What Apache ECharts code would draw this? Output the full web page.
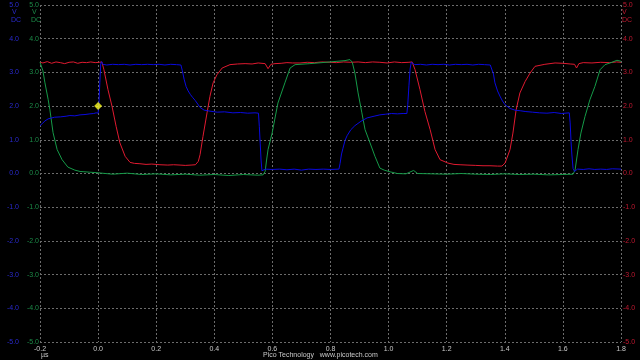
<!DOCTYPE html>
<html>
<head>
<meta charset="utf-8">
<script src="https://cdn.jsdelivr.net/npm/echarts@6/dist/echarts.min.js"></script>
<style>
html,body{margin:0;padding:0;background:#000;}
#chart{width:640px;height:360px;}
</style>
</head>
<body>
<div id="chart"></div>
<script>
// Time axis (µs) and voltage axes (V DC)
const xTicks = { min: -0.2, max: 1.8, step: 0.2 };
const yTicks = { min: -5, max: 5, step: 1 };

// Channel A (blue)
const blueT = [-0.200,-0.190,-0.183,-0.172,-0.166,-0.150,-0.130,-0.110,-0.097,-0.080,-0.062,-0.045,-0.028,-0.015,-0.007,0.000,0.003,0.006,0.009,0.012,0.016,0.030,0.050,0.070,0.090,0.110,0.130,0.150,0.170,0.190,0.210,0.230,0.250,0.270,0.285,0.290,0.296,0.303,0.310,0.318,0.326,0.334,0.343,0.351,0.365,0.385,0.410,0.435,0.464,0.490,0.515,0.540,0.552,0.555,0.558,0.561,0.564,0.568,0.575,0.600,0.625,0.650,0.675,0.700,0.725,0.750,0.775,0.800,0.829,0.833,0.838,0.843,0.850,0.857,0.870,0.884,0.905,0.926,0.950,0.970,0.990,1.010,1.030,1.050,1.063,1.066,1.070,1.074,1.078,1.083,1.090,1.110,1.130,1.150,1.170,1.190,1.210,1.230,1.250,1.270,1.290,1.310,1.330,1.350,1.356,1.361,1.366,1.375,1.383,1.392,1.401,1.418,1.435,1.455,1.470,1.495,1.520,1.545,1.570,1.595,1.622,1.625,1.628,1.631,1.635,1.640,1.650,1.670,1.690,1.710,1.730,1.750,1.770,1.800];
const blueV = [1.42,1.50,1.56,1.62,1.65,1.67,1.68,1.70,1.72,1.71,1.74,1.75,1.77,1.78,1.80,1.79,2.10,2.70,3.25,3.32,3.24,3.22,3.24,3.23,3.24,3.22,3.24,3.23,3.24,3.23,3.24,3.22,3.24,3.23,3.22,3.05,2.80,2.58,2.45,2.34,2.25,2.17,2.06,1.96,1.88,1.85,1.82,1.83,1.80,1.81,1.79,1.80,1.79,1.40,0.90,0.40,0.08,0.10,0.13,0.12,0.13,0.11,0.13,0.10,0.13,0.12,0.13,0.12,0.13,0.30,0.58,0.75,0.98,1.12,1.30,1.42,1.55,1.65,1.70,1.74,1.76,1.78,1.77,1.78,1.78,2.05,2.60,3.10,3.30,3.25,3.23,3.24,3.22,3.24,3.23,3.24,3.22,3.24,3.23,3.24,3.22,3.24,3.23,3.22,3.20,2.95,2.69,2.45,2.30,2.15,2.04,1.93,1.88,1.86,1.84,1.82,1.80,1.79,1.81,1.78,1.80,1.50,0.95,0.55,0.15,0.06,0.13,0.12,0.14,0.12,0.13,0.12,0.14,0.13];

// Channel B (green)
const greenT = [-0.200,-0.195,-0.190,-0.183,-0.172,-0.166,-0.155,-0.141,-0.124,-0.104,-0.080,-0.062,-0.030,0.000,0.050,0.100,0.150,0.200,0.250,0.300,0.350,0.400,0.450,0.500,0.550,0.568,0.575,0.580,0.585,0.599,0.619,0.643,0.661,0.678,0.729,0.798,0.850,0.867,0.875,0.884,0.895,0.908,0.919,0.936,0.953,0.970,0.985,1.005,1.030,1.060,1.086,1.100,1.150,1.200,1.250,1.300,1.350,1.400,1.450,1.500,1.550,1.600,1.635,1.642,1.652,1.662,1.676,1.693,1.710,1.728,1.745,1.769,1.786,1.800];
const greenV = [3.30,3.25,3.05,2.69,2.20,1.89,1.21,0.71,0.41,0.19,0.10,0.06,0.04,0.02,-0.02,0.01,-0.03,-0.01,-0.04,-0.02,-0.05,-0.03,-0.06,-0.03,-0.05,-0.04,0.06,0.40,0.71,1.20,2.09,2.69,3.13,3.23,3.26,3.31,3.35,3.38,3.30,2.98,2.39,1.80,1.30,0.91,0.51,0.16,0.10,0.05,0.00,-0.01,0.09,0.00,-0.01,-0.02,0.00,-0.02,-0.03,-0.01,-0.03,-0.02,-0.04,-0.03,-0.02,0.11,0.71,1.20,1.69,2.19,2.58,3.08,3.23,3.30,3.36,3.33];

// Channel C (red, right axis)
const redT = [-0.200,-0.190,-0.175,-0.160,-0.145,-0.130,-0.115,-0.100,-0.085,-0.070,-0.055,-0.040,-0.025,-0.010,0.005,0.013,0.020,0.034,0.048,0.062,0.075,0.093,0.110,0.125,0.144,0.165,0.185,0.213,0.240,0.260,0.282,0.300,0.320,0.335,0.345,0.351,0.361,0.375,0.385,0.396,0.409,0.427,0.454,0.480,0.506,0.530,0.551,0.575,0.585,0.595,0.609,0.630,0.650,0.670,0.695,0.720,0.745,0.770,0.798,0.820,0.845,0.870,0.895,0.920,0.945,0.970,0.995,1.020,1.045,1.070,1.081,1.091,1.108,1.125,1.143,1.160,1.177,1.204,1.225,1.246,1.270,1.300,1.325,1.349,1.375,1.390,1.401,1.418,1.428,1.439,1.452,1.470,1.487,1.504,1.538,1.573,1.600,1.625,1.640,1.647,1.655,1.670,1.700,1.730,1.760,1.785,1.800];
const redV = [3.30,3.28,3.32,3.27,3.31,3.29,3.26,3.30,3.31,3.27,3.30,3.29,3.31,3.29,3.30,3.31,3.08,2.49,1.99,1.40,0.91,0.51,0.33,0.30,0.29,0.27,0.28,0.26,0.25,0.26,0.25,0.24,0.25,0.26,0.36,0.56,1.10,1.80,2.29,2.69,2.93,3.13,3.23,3.25,3.26,3.25,3.28,3.26,3.11,3.24,3.26,3.27,3.29,3.28,3.28,3.30,3.29,3.31,3.30,3.29,3.31,3.30,3.31,3.29,3.31,3.30,3.28,3.31,3.29,3.30,3.31,3.08,2.49,1.84,1.30,0.71,0.41,0.31,0.27,0.26,0.25,0.24,0.23,0.23,0.22,0.22,0.31,0.71,1.20,1.89,2.39,2.73,2.98,3.18,3.24,3.28,3.27,3.25,3.24,3.13,3.26,3.29,3.28,3.30,3.29,3.31,3.30];

// Trigger marker
const triggerPoint = [[0.0, 2.0]];

const zip = (t, v) => t.map((x, i) => [x, v[i]]);

const FONT = 'Liberation Sans';
const gridLine = { show: true, lineStyle: { color: '#6c6c6c', type: [2, 2], width: 1 } };
const fmt = v => v.toFixed(1);

function yAxis(pos, offset, color, showSplit) {
  return {
    type: 'value', position: pos, offset: offset,
    min: yTicks.min, max: yTicks.max, interval: yTicks.step,
    axisLine: { show: false }, axisTick: { show: false },
    splitLine: showSplit ? gridLine : { show: false },
    axisLabel: { color: color, fontSize: 7, fontFamily: FONT, margin: pos === 'left' ? 1 : 2, formatter: fmt }
  };
}

const chart = echarts.init(document.getElementById('chart'), null, { renderer: 'canvas' });
const txt = (left, top, text, color, extra) => Object.assign({
  type: 'text', left: left, top: top,
  style: { text: text, fill: color, font: '7px ' + FONT }
}, extra || {});

chart.setOption({
  backgroundColor: '#000',
  animation: false,
  grid: { left: 40, right: 19, top: 5, bottom: 18 },
  xAxis: {
    type: 'value', min: xTicks.min, max: xTicks.max, interval: xTicks.step,
    axisLine: { show: false }, axisTick: { show: false },
    splitLine: gridLine,
    axisLabel: { color: '#c8c8c8', fontSize: 7, fontFamily: FONT, margin: 4, formatter: fmt }
  },
  yAxis: [
    yAxis('left', 0, '#1c8c48', true),
    yAxis('left', 20, '#2a2ad0', false),
    yAxis('right', 0, '#c01830', false)
  ],
  graphic: [
    txt(12, 9, 'V', '#2a2ad0'), txt(11, 17, 'DC', '#2a2ad0'),
    txt(32, 9, 'V', '#1c8c48'), txt(31, 17, 'DC', '#1c8c48'),
    txt(622, 9, 'V', '#c01830'), txt(622, 17, 'DC', '#c01830'),
    txt(41, 352, 'µs', '#c8c8c8'),
    txt(263, 352, 'Pico Technology   www.picotech.com', '#c8c8c8')
  ],
  series: [
    { type: 'line', yAxisIndex: 2, data: zip(redT, redV), showSymbol: false, lineStyle: { color: '#e01a30', width: 1 }, z: 2 },
    { type: 'line', yAxisIndex: 0, data: zip(greenT, greenV), showSymbol: false, lineStyle: { color: '#159a48', width: 1 }, z: 3 },
    { type: 'line', yAxisIndex: 1, data: zip(blueT, blueV), showSymbol: false, lineStyle: { color: '#0a0ae0', width: 1 }, z: 4 },
    { type: 'scatter', yAxisIndex: 1, data: triggerPoint, symbol: 'diamond', symbolSize: 8, itemStyle: { color: '#ffff20' }, z: 5 }
  ]
});
</script>
</body>
</html>
